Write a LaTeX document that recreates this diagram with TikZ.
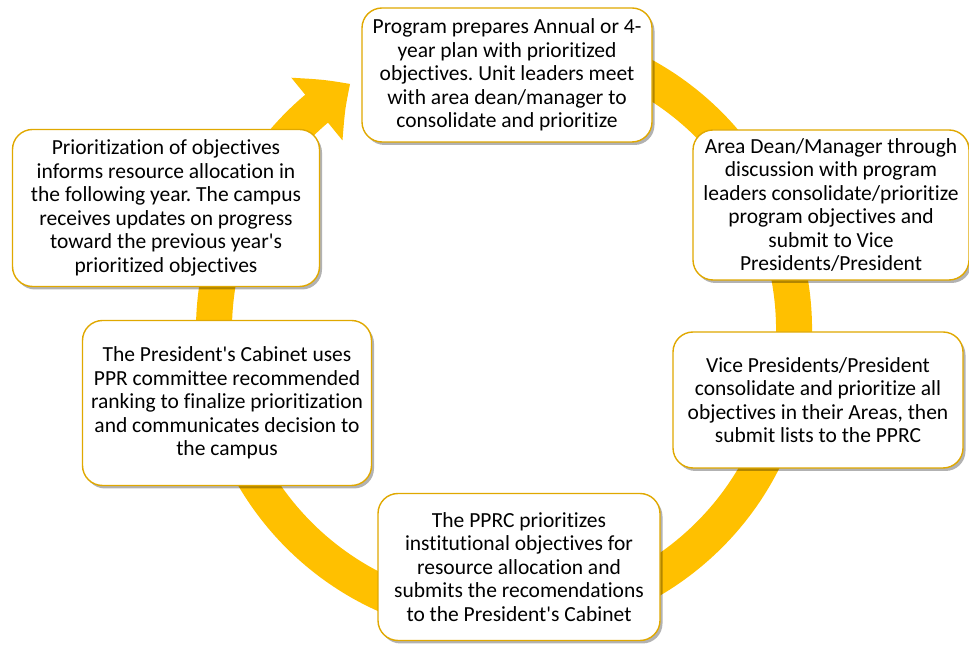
\documentclass[tikz,border=0pt]{standalone}
\usepackage{fontspec}
\setmainfont{Carlito}[Ligatures=NoCommon]
\usepackage{xcolor}
\usetikzlibrary{arrows.meta,bending,shadows}
\definecolor{gold}{HTML}{FFC000}
\definecolor{goldedge}{HTML}{E0A800}
\newcommand{\apos}{\textquotesingle}

\begin{document}
\frenchspacing
\begin{tikzpicture}[
x=1pt,y=1pt,
stepbox/.style={draw=goldedge,line width=1.4pt,rounded corners=20pt,fill=white,align=center,
  font=\fontsize{21.5}{23.5}\selectfont,inner sep=3pt,
  drop shadow={shadow xshift=2.5pt,shadow yshift=-3pt,opacity=.3,fill=black}},
ring/.style={draw=gold,line width=36pt,-{Triangle[width=78pt,length=42pt,bend]}}
]
\useasboundingbox (0,0) rectangle (969,645);
\coordinate (c) at (504,315);
% cycle arrow behind the boxes
\draw[ring] (c) ++(80:290) arc[start angle=80,end angle=-238,radius=290];
% the six steps
\node[stepbox,minimum width=290pt,minimum height=134pt] (plan) at (507,570)
  {Program prepares Annual or 4-\\year plan with prioritized\\objectives. Unit leaders meet\\with area dean/manager to\\consolidate and prioritize};
\node[stepbox,minimum width=276pt,minimum height=150pt] (dean) at (831,440)
  {Area Dean/Manager through\\discussion with program\\leaders consolidate/prioritize\\program objectives and\\submit to Vice\\Presidents/President};
\node[stepbox,minimum width=290pt,minimum height=136pt] (vp) at (818,245)
  {Vice Presidents/President\\consolidate and prioritize all\\objectives in their Areas, then\\submit lists to the PPRC};
\node[stepbox,minimum width=282pt,minimum height=147pt] (pprc) at (519,78)
  {The PPRC prioritizes\\institutional objectives for\\resource allocation and\\submits the recomendations\\to the President\apos s Cabinet};
\node[stepbox,minimum width=289pt,minimum height=165pt] (cabinet) at (227,242)
  {The President\apos s Cabinet uses\\PPR committee recommended\\ranking to finalize prioritization\\and communicates decision to\\the campus};
\node[stepbox,minimum width=307pt,minimum height=157pt] (update) at (166,437)
  {Prioritization of objectives\\informs resource allocation in\\the following year. The campus\\receives updates on progress\\toward the previous year\apos s\\prioritized objectives};
\end{tikzpicture}
\end{document}
